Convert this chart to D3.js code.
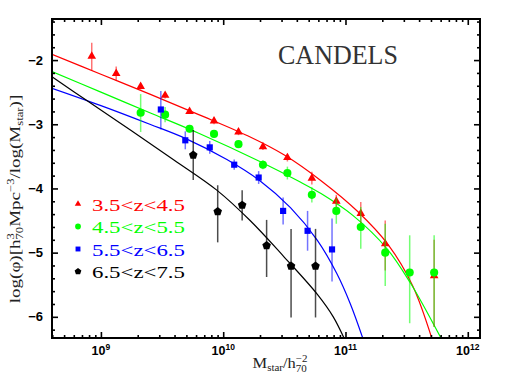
<!DOCTYPE html>
<html>
<head>
<meta charset="utf-8">
<script src="https://cdn.jsdelivr.net/npm/d3@7"></script>
<style>
	body { margin: 0; background: #fff; }
</style>
</head>
<body>
<script>
// Values: log10(M_star) and log10(phi)
const redLogM = [8.925, 9.125, 9.325, 9.525, 9.725, 9.925, 10.125, 10.325, 10.525, 10.725, 10.925, 11.125, 11.325, 11.725];
const redLogPhi = [-1.94, -2.21, -2.41, -2.55, -2.8, -2.95, -3.12, -3.35, -3.52, -3.84, -4.2, -4.39, -4.86, -5.36];
const redErrUp = [0.21, 0.11, 0.05, 0.05, 0.04, 0.05, 0.05, 0.05, 0.06, 0.1, 0.1, 0.18, 0.36, 0.56];
const redErrLo = [0.22, 0.11, 0.05, 0.05, 0.04, 0.05, 0.05, 0.05, 0.06, 0.1, 0.1, 0.18, 0.42, 0.8];

const greenLogM = [9.325, 9.525, 9.725, 9.925, 10.125, 10.325, 10.525, 10.725, 10.925, 11.125, 11.325, 11.525, 11.725];
const greenLogPhi = [-2.82, -2.85, -3.07, -3.15, -3.31, -3.63, -3.76, -4.1, -4.35, -4.6, -5.0, -5.31, -5.31];
const greenErrUp = [0.29, 0.12, 0.06, 0.06, 0.06, 0.07, 0.1, 0.12, 0.2, 0.31, 0.45, 0.58, 0.58];
const greenErrLo = [0.3, 0.12, 0.06, 0.06, 0.06, 0.07, 0.1, 0.12, 0.2, 0.34, 0.52, 0.79, 0.85];

const blueLogM = [9.49, 9.69, 9.89, 10.09, 10.29, 10.49, 10.69, 10.89];
const blueLogPhi = [-2.77, -3.25, -3.36, -3.63, -3.83, -4.35, -4.66, -4.95];
const blueErrUp = [0.29, 0.14, 0.1, 0.08, 0.1, 0.21, 0.31, 0.48];
const blueErrLo = [0.31, 0.14, 0.1, 0.08, 0.1, 0.21, 0.31, 0.5];

const blackLogM = [9.755, 9.955, 10.155, 10.355, 10.555, 10.755];
const blackLogPhi = [-3.48, -4.36, -4.26, -4.89, -5.21, -5.21];
const blackErrUp = [0.39, 0.41, 0.23, 0.4, 0.58, 0.58];
const blackErrLo = [0.39, 0.48, 0.24, 0.49, 0.8, 0.8];

// Fitted curves
const redCurveX = [8.6, 9.0, 9.4, 9.8, 10.2, 10.5, 10.8, 11.1, 11.35, 11.55, 11.72];
const redCurveY = [-1.91, -2.22, -2.53, -2.85, -3.18, -3.48, -3.88, -4.36, -4.88, -5.52, -6.42];
const greenCurveX = [8.6, 9.0, 9.4, 9.8, 10.3, 10.63, 10.8, 11.06, 11.34, 11.53, 11.75, 11.8];
const greenCurveY = [-2.18, -2.5, -2.82, -3.14, -3.58, -3.9, -4.08, -4.42, -4.94, -5.47, -6.22, -6.4];
const blueCurveX = [8.6, 9.0, 9.4, 9.69, 10.03, 10.3, 10.55, 10.77, 10.93, 11.04, 11.15];
const blueCurveY = [-2.44, -2.71, -3.0, -3.22, -3.55, -3.88, -4.3, -4.81, -5.33, -5.8, -6.38];
const blackCurveX = [8.6, 8.9, 9.25, 9.6, 9.95, 10.22, 10.49, 10.77, 10.9, 11.0];
const blackCurveY = [-2.26, -2.65, -3.1, -3.56, -4.03, -4.5, -5.05, -5.65, -6.0, -6.38];

const legendLabels = ["3.5<z<4.5", "4.5<z<5.5", "5.5<z<6.5", "6.5<z<7.5"];
const yTicks = [-6, -5, -4, -3, -2];
const xDecades = [9, 10, 11, 12];

const w = 510;
const h = 382;
const padL = 52, padR = 480, padT = 19, padB = 338;

const svg = d3.select("body").append("svg").attr("width", w).attr("height", h);

const x = d3.scaleLog().domain([Math.pow(10, 8.6), Math.pow(10, 12.1)]).range([padL, padR]);
const y = d3.scaleLinear().domain([-6.33, -1.36]).range([padB, padT]);

// pentagon marker for d3.symbol
const symbolPentagon = {
	draw(context, size) {
		const r = Math.sqrt(size / 2.378);
		for (let i = 0; i < 5; i++) {
			const a = -Math.PI / 2 + (i * 2 * Math.PI) / 5;
			if (i === 0) context.moveTo(r * Math.cos(a), r * Math.sin(a));
			else context.lineTo(r * Math.cos(a), r * Math.sin(a));
		}
		context.closePath();
	},
};

const series = [
	{ color: "#ff0000", m: redLogM, p: redLogPhi, up: redErrUp, lo: redErrLo, cx: redCurveX, cy: redCurveY, sym: d3.symbolTriangle, size: 32, lsize: 18 },
	{ color: "#00ff00", m: greenLogM, p: greenLogPhi, up: greenErrUp, lo: greenErrLo, cx: greenCurveX, cy: greenCurveY, sym: d3.symbolCircle, size: 52, lsize: 26 },
	{ color: "#0000ff", m: blueLogM, p: blueLogPhi, up: blueErrUp, lo: blueErrLo, cx: blueCurveX, cy: blueCurveY, sym: d3.symbolSquare, size: 38, lsize: 24 },
	{ color: "#000000", m: blackLogM, p: blackLogPhi, up: blackErrUp, lo: blackErrLo, cx: blackCurveX, cy: blackCurveY, sym: symbolPentagon, size: 48, lsize: 30 },
];

svg.append("clipPath").attr("id", "plot-clip")
	.append("rect").attr("x", padL).attr("y", padT).attr("width", padR - padL).attr("height", padB - padT);

const plot = svg.append("g").attr("clip-path", "url(#plot-clip)");

// curves
const line = d3.line()
	.x((d) => x(Math.pow(10, d[0])))
	.y((d) => y(d[1]))
	.curve(d3.curveCatmullRom);

series.forEach((s) => {
	plot.append("path")
		.datum(d3.zip(s.cx, s.cy))
		.attr("d", line)
		.attr("fill", "none")
		.attr("stroke", s.color)
		.attr("stroke-width", 1.2);
});

// error bars and markers
series.forEach((s) => {
	const pts = s.m.map((m, i) => ({ m, p: s.p[i], up: s.up[i], lo: s.lo[i] }));
	plot.selectAll(null)
		.data(pts)
		.enter()
		.append("line")
		.attr("x1", (d) => x(Math.pow(10, d.m)))
		.attr("x2", (d) => x(Math.pow(10, d.m)))
		.attr("y1", (d) => y(d.p + d.up))
		.attr("y2", (d) => y(d.p - d.lo))
		.attr("stroke", s.color)
		.attr("stroke-opacity", s.color === "#000000" ? 0.7 : 0.55)
		.attr("stroke-width", 1.5);

	plot.selectAll(null)
		.data(pts)
		.enter()
		.append("path")
		.attr("d", d3.symbol().type(s.sym).size(s.size))
		.attr("transform", (d) => `translate(${x(Math.pow(10, d.m))},${y(d.p)})`)
		.attr("fill", s.color);
});

// axes: ticks point inward on all four sides
const xMinor = [];
for (let d = 8; d <= 12; d++) {
	for (let k = 2; k <= 9; k++) {
		const v = k * Math.pow(10, d);
		if (v >= x.domain()[0] && v <= x.domain()[1]) xMinor.push(v);
	}
}
const xMajor = xDecades.map((d) => Math.pow(10, d));
const yMinor = d3.range(-6.2, -1.35, 0.2).map((v) => Math.round(v * 10) / 10).filter((v) => v % 1 !== 0);

function drawTicks(axis, transform) {
	const g = svg.append("g").attr("transform", transform).call(axis);
	g.select(".domain").remove();
	g.selectAll("line").attr("stroke", "#000").attr("stroke-width", 1.6);
	g.selectAll("text").remove();
}

drawTicks(d3.axisBottom(x).tickValues(xMajor).tickSize(-6), `translate(0,${padB})`);
drawTicks(d3.axisBottom(x).tickValues(xMinor).tickSize(-3), `translate(0,${padB})`);
drawTicks(d3.axisTop(x).tickValues(xMajor).tickSize(-6), `translate(0,${padT})`);
drawTicks(d3.axisTop(x).tickValues(xMinor).tickSize(-3), `translate(0,${padT})`);
drawTicks(d3.axisLeft(y).tickValues(yTicks).tickSize(-6), `translate(${padL},0)`);
drawTicks(d3.axisLeft(y).tickValues(yMinor).tickSize(-3), `translate(${padL},0)`);
drawTicks(d3.axisRight(y).tickValues(yTicks).tickSize(-6), `translate(${padR},0)`);
drawTicks(d3.axisRight(y).tickValues(yMinor).tickSize(-3), `translate(${padR},0)`);

// frame
svg.append("rect")
	.attr("x", padL).attr("y", padT)
	.attr("width", padR - padL).attr("height", padB - padT)
	.attr("fill", "none").attr("stroke", "#000").attr("stroke-width", 2);

// tick labels
svg.append("g")
	.selectAll("text")
	.data(yTicks)
	.enter()
	.append("text")
	.attr("x", padL - 9)
	.attr("y", (d) => y(d) + 4.5)
	.attr("text-anchor", "end")
	.attr("font-family", "Liberation Sans, Arial, sans-serif")
	.attr("font-weight", "bold")
	.attr("font-size", 13)
	.text((d) => "\u2212" + Math.abs(d));

const xLab = svg.append("g")
	.selectAll("text")
	.data(xDecades)
	.enter()
	.append("text")
	.attr("x", (d) => x(Math.pow(10, d)))
	.attr("y", 355)
	.attr("text-anchor", "middle")
	.attr("font-family", "Liberation Sans, Arial, sans-serif")
	.attr("font-weight", "bold")
	.attr("font-size", 12.5);
xLab.append("tspan").text("10");
xLab.append("tspan").attr("font-size", 8.5).attr("dy", -5).text((d) => d);

// stretch a text element horizontally to a target width
function fitWidth(sel, target, transform) {
	const len = sel.node().getComputedTextLength();
	sel.attr("transform", `${transform} scale(${target / len},1)`);
}

const serif = "Liberation Serif, Times New Roman, serif";

// y axis title
const yTitle = svg.append("text")
	.attr("text-anchor", "middle")
	.attr("font-family", serif)
	.attr("font-size", 15)
	.attr("fill", "#222");
yTitle.append("tspan").text("log(\u03c6)[h");
yTitle.append("tspan").attr("font-size", 10).attr("dy", -6).text("3");
yTitle.append("tspan").attr("font-size", 10).attr("dx", -5).attr("dy", 9).text("70");
yTitle.append("tspan").attr("dy", -3).text("Mpc");
yTitle.append("tspan").attr("font-size", 10).attr("dy", -6).text("\u22123");
yTitle.append("tspan").attr("dy", 6).text("/log(M");
yTitle.append("tspan").attr("font-size", 10).attr("dy", 3).text("star");
yTitle.append("tspan").attr("dy", -3).text(")]");
fitWidth(yTitle, 215, "translate(20,199) rotate(-90)");

// x axis title
const xTitle = svg.append("text")
	.attr("text-anchor", "middle")
	.attr("font-family", serif)
	.attr("font-size", 15)
	.attr("fill", "#222");
xTitle.append("tspan").text("M");
xTitle.append("tspan").attr("font-size", 10).attr("dy", 3).text("star");
xTitle.append("tspan").attr("dy", -3).text("/h");
xTitle.append("tspan").attr("font-size", 10).attr("dy", -6).text("\u22122");
xTitle.append("tspan").attr("font-size", 10).attr("dx", -10.6).attr("dy", 10).text("70");
fitWidth(xTitle, 66, "translate(280,368)");

// survey name
const title = svg.append("text")
	.attr("font-family", serif)
	.attr("font-size", 28)
	.attr("fill", "#333")
	.text("CANDELS");
fitWidth(title, 120, "translate(278,64)");

// legend
const legend = svg.append("g").attr("id", "legend");
series.forEach((s, i) => {
	const ly = 204 + i * 22.5;
	legend.append("path")
		.attr("d", d3.symbol().type(s.sym).size(s.lsize))
		.attr("transform", `translate(78,${ly})`)
		.attr("fill", s.color);
	const t = legend.append("text")
		.attr("font-family", serif)
		.attr("font-size", 17)
		.attr("fill", s.color)
		.text(legendLabels[i]);
	fitWidth(t, 93, `translate(92,${ly + 6.5})`);
});
</script>
</body>
</html>
